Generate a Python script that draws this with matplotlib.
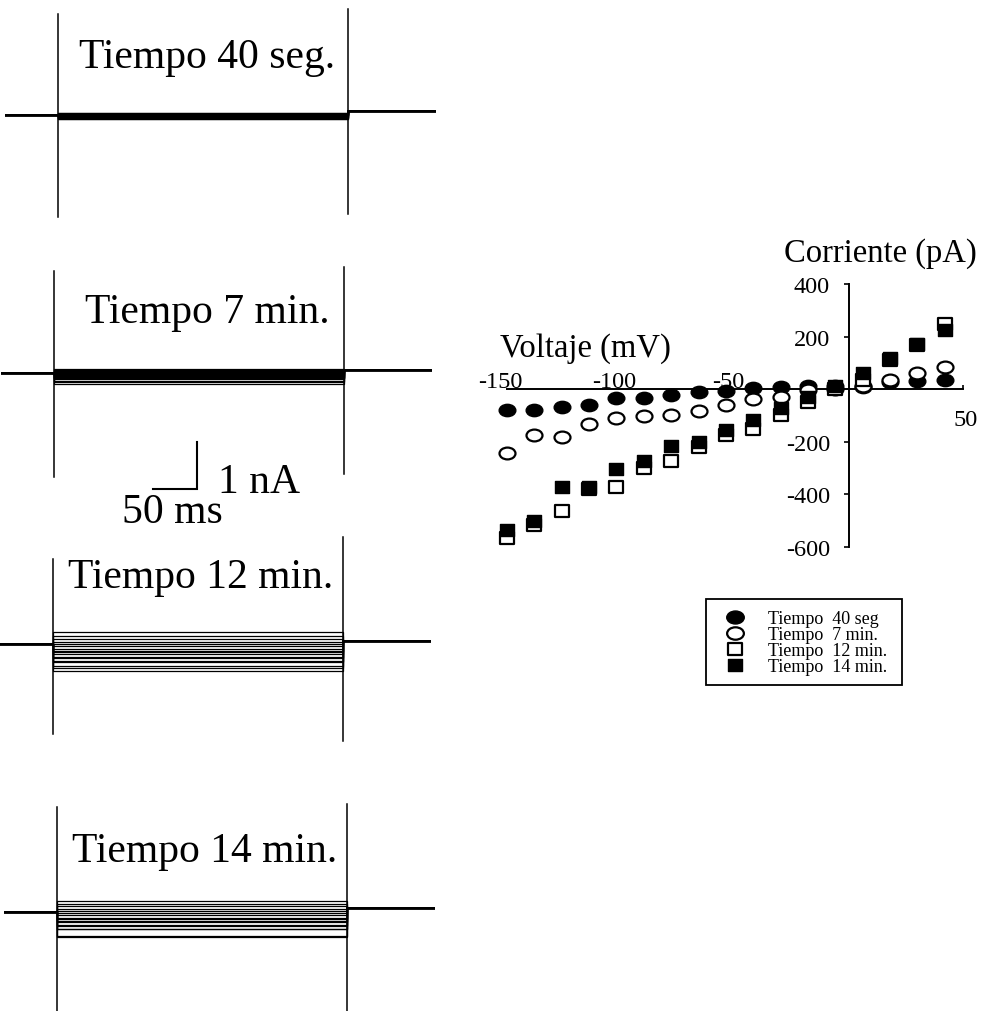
import numpy as np
import matplotlib
matplotlib.use('Agg')
import matplotlib.pyplot as plt
from matplotlib.path import Path
from matplotlib.patches import Rectangle

plt.rcParams['font.family'] = ['Liberation Serif', 'DejaVu Serif']

W, H, DPI = 983, 1012, 100

# ---------------- I-V data (pA vs mV) ----------------
voltage_mv = [-150, -138, -126, -114, -102, -90, -78, -66, -54, -42, -30, -18, -6, 6, 18, 30, 42]
i_40seg = [-79, -80, -69, -60, -34, -34, -22, -9, -6, 3, 10, 14, 14, 10, 28, 33, 35]
i_7min = [-244, -176, -183, -133, -108, -102, -98, -84, -60, -37, -28, -3, 0, 12, 36, 61, 84]
i_12min = [-565, -517, -462, -380, -371, -301, -273, -220, -174, -151, -98, -50, 1, 36, 110, 169, 248]
i_14min = [-536, -502, -371, -371, -305, -272, -215, -201, -157, -119, -70, -30, 14, 63, 119, 170, 226]

legend_labels = ['Tiempo  40 seg', 'Tiempo  7 min.', 'Tiempo  12 min.', 'Tiempo  14 min.']
panel_titles = ['Tiempo 40 seg.', 'Tiempo 7 min.', 'Tiempo 12 min.', 'Tiempo 14 min.']

x_ticks = [-150, -100, -50, 50]
x_ticklabels = ['-150', '-100', '-50', '50']
y_ticks = [400, 200, -200, -400, -600]
y_ticklabels = ['400', '200', '-200', '-400', '-600']

# ---------------- trace protocol ----------------
pulse_ms = 330
pre_ms, post_ms = 60, 100
tail_nA = [0.08, 0.06, 0.06, 0.08]
onset_up = [2.15, 2.17, 1.81, 2.23]
onset_dn = [-2.17, -2.21, -1.91, -2.3]
offset_up = [2.26, 2.26, 2.28, 2.30]
offset_dn = [-2.11, -2.15, -2.06, -2.3]
scale_nA, scale_ms = 1, 50

def fx(x):
    return x / W

def fy(y):
    return 1 - y / H

fig = plt.figure(figsize=(W / DPI, H / DPI), dpi=DPI)

# ---------------- current traces ----------------
px_per_ms = 0.88
px_per_nA = 47.0
ylim_nA = 2.3
panel_start_px = [58, 54, 53, 57]
panel_base_px = [116, 374, 645, 913]
panel_title_pos = [(207, 68), (207.5, 323), (201, 588), (205, 862)]
series_all = [i_40seg, i_7min, i_12min, i_14min]

trace_axes = []
for k in range(4):
    left = panel_start_px[k] - pre_ms * px_per_ms
    width = (pre_ms + pulse_ms + post_ms) * px_per_ms
    top = panel_base_px[k] - ylim_nA * px_per_nA
    height = 2 * ylim_nA * px_per_nA
    tax = fig.add_axes([fx(left), fy(top + height), width / W, height / H])
    tax.set_xlim(-pre_ms, pulse_ms + post_ms)
    tax.set_ylim(-ylim_nA, ylim_nA)
    tax.axis('off')
    for cur in series_all[k]:
        lvl = cur / 1000.0
        tax.plot([-pre_ms, 0, 0, pulse_ms, pulse_ms, pulse_ms + post_ms],
                 [0, 0, lvl, lvl, tail_nA[k], tail_nA[k]],
                 color='black', lw=0.9, solid_joinstyle='miter')
    tax.plot([0, 0], [onset_dn[k], onset_up[k]], color='black', lw=1.1, clip_on=False)
    tax.plot([pulse_ms, pulse_ms], [offset_dn[k], offset_up[k]], color='black', lw=1.1, clip_on=False)
    tax.plot([-pre_ms, 0], [0, 0], color='black', lw=1.4)
    tax.plot([pulse_ms, pulse_ms + post_ms], [tail_nA[k], tail_nA[k]], color='black', lw=1.4)
    tx, ty = panel_title_pos[k]
    fig.text(fx(tx), fy(ty), panel_titles[k], ha='center', va='baseline', fontsize=30)
    trace_axes.append(tax)

# scale bar in the 7-min panel
sax = trace_axes[1]
corner_t = 162.5
corner_y = -2.47
sax.plot([corner_t - scale_ms, corner_t, corner_t],
         [corner_y, corner_y, corner_y + scale_nA],
         color='black', lw=1.5, clip_on=False, solid_joinstyle='miter')
fig.text(fx(218), fy(493), '1 nA', ha='left', va='baseline', fontsize=30)
fig.text(fx(172.5), fy(523), '50 ms', ha='center', va='baseline', fontsize=30)

# ---------------- I-V plot ----------------
ax = fig.add_axes([fx(507), fy(548), (963 - 507) / W, (548 - 285) / H])
ax.set_xlim(-150, 50)
ax.set_ylim(-600, 400)
ax.patch.set_alpha(0)
for s in ['top', 'right']:
    ax.spines[s].set_visible(False)
ax.spines['left'].set_position(('data', 0))
ax.spines['bottom'].set_position(('data', 0))
ax.spines['left'].set_linewidth(1.4)
ax.spines['bottom'].set_linewidth(1.4)
ax.set_yticks(y_ticks)
ax.set_yticklabels(y_ticklabels)
ax.tick_params(axis='y', direction='out', length=3.6, width=1.2, labelsize=17.5, pad=10)
ax.set_xticks([50])
ax.tick_params(axis='x', direction='in', length=3, width=1.2, labelbottom=False)

for v, lab in zip(x_ticks, x_ticklabels):
    if v < 0:
        ax.annotate(lab, xy=(v, 0), xytext=(-5, 1.5), textcoords='offset points',
                    ha='center', va='baseline', fontsize=17.5, annotation_clip=False)
    else:
        ax.annotate(lab, xy=(v, 0), xytext=(2, -21.5), textcoords='offset points',
                    ha='center', va='center', fontsize=17.5, annotation_clip=False)

fig.text(fx(585), fy(357), 'Voltaje (mV)', ha='center', va='baseline', fontsize=23.5)
fig.text(fx(880), fy(262), 'Corriente (pA)', ha='center', va='baseline', fontsize=23.5)

circ = Path.unit_circle()
ellipse = Path(circ.vertices * np.array([1.35, 1.0]), circ.codes)
rect = Path([(-1.1, -1), (1.1, -1), (1.1, 1), (-1.1, 1), (-1.1, -1)],
            [Path.MOVETO, Path.LINETO, Path.LINETO, Path.LINETO, Path.CLOSEPOLY])

h1, = ax.plot(voltage_mv, i_40seg, ls='none', marker=ellipse, ms=12, mfc='black',
              mec='black', mew=1.0, clip_on=False, zorder=3, label=legend_labels[0])
h2, = ax.plot(voltage_mv, i_7min, ls='none', marker=ellipse, ms=11.5, mfc='white',
              mec='black', mew=1.6, clip_on=False, zorder=4, label=legend_labels[1])
h3, = ax.plot(voltage_mv, i_12min, ls='none', marker=rect, ms=9.5, mfc='white',
              mec='black', mew=1.6, clip_on=False, zorder=5, label=legend_labels[2])
h4, = ax.plot(voltage_mv, i_14min, ls='none', marker=rect, ms=9.5, mfc='black',
              mec='black', mew=1.0, clip_on=False, zorder=6, label=legend_labels[3])

leg = ax.legend(handles=[h1, h2, h3, h4], loc='upper left',
                bbox_to_anchor=(fx(726), fy(611)), bbox_transform=fig.transFigure,
                frameon=False, fontsize=13, labelspacing=-0.05, handlelength=1.0,
                handletextpad=1.3, borderpad=0, borderaxespad=0, markerscale=1.05)
fig.add_artist(Rectangle((fx(706), fy(686)), (902 - 706) / W, (686 - 600) / H,
                         transform=fig.transFigure, fill=False, ec='black', lw=1.3))

fig.savefig('out.png', dpi=DPI)
